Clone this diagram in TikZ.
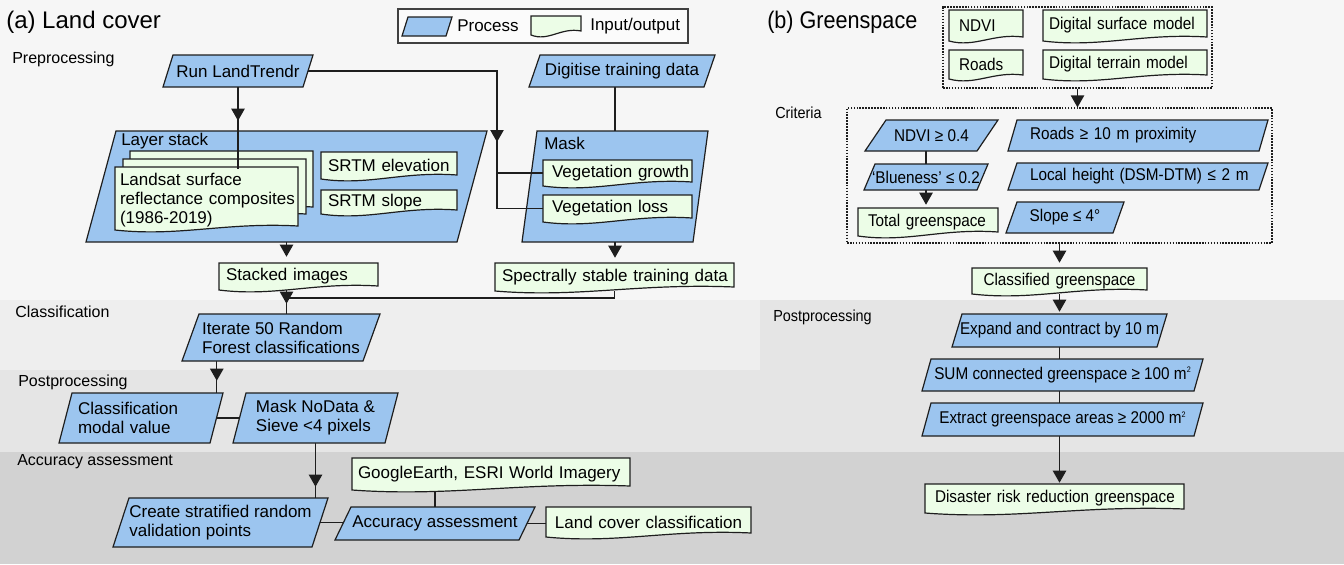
\documentclass[tikz,border=0pt]{standalone}
\usepackage{fontspec}
\setmainfont{Liberation Sans}
\newfontfamily\narrowsans[FakeStretch=0.9]{Liberation Sans}
\usetikzlibrary{arrows.meta,fit,calc}
\pgfdeclarelayer{back}
\pgfdeclarelayer{lines}
\pgfsetlayers{back,lines,main}

\definecolor{procfill}{HTML}{9CC5EF}
\definecolor{iofill}{HTML}{ECFDE7}
\definecolor{bgtop}{HTML}{F6F6F6}
\definecolor{bgclass}{HTML}{EEEEEE}
\definecolor{bgpost}{HTML}{E5E5E5}
\definecolor{bgacc}{HTML}{D2D2D2}
\definecolor{ink}{HTML}{1E1E1E}

\tikzset{
  boxfont/.style={font=\fontsize{12.75pt}{14.3pt}\selectfont},
  procshape/.style={fill=procfill, draw=ink, line width=0.9pt},
  ioshape/.style={fill=iofill, draw=ink, line width=0.9pt},
  boxtext/.style={inner sep=0pt, text=black, align=center, boxfont},
  lbl/.style={anchor=west, inner sep=0pt, font=\fontsize{12pt}{14pt}\selectfont},
  titletext/.style={anchor=west, inner sep=0pt, font=\fontsize{18pt}{20pt}\selectfont},
  conn/.style={draw=ink, line width=0.9pt},
  arr/.style={conn, -{Triangle[width=10pt,length=9pt]}},
  dotbox/.style={draw=ink, line width=0.9pt, dash pattern=on 1.2pt off 1pt, inner sep=0pt},
  legendbox/.style={draw=ink!85, fill=white!60!bgtop, line width=0.9pt, inner sep=0pt},
}

% process box (parallelogram): [options]{name}{x bottom-left}{x top-right}{y top}{y bottom}{slant}{text}
\newcommand\procbox[8][]{%
  \filldraw[procshape] ({#3+#7},#5) -- (#4,#5) -- ({#4-#7},#6) -- (#3,#6) -- cycle;
  \node[boxtext, minimum width={(#4-#3-#7)*0.75pt}, minimum height={(#6-#5)*0.75pt}, #1]
    (#2) at ({(#3+#4)/2},{(#5+#6)/2}) {#8};
}
% input/output box with a wavy lower edge: [options]{name}{x left}{x right}{y top}{y bottom right}{padding}{text}
\newcommand\iobox[8][]{%
  \filldraw[ioshape] (#3,#5) -- (#4,#5) -- (#4,#6)
    .. controls ({#4-0.4*(#4-#3)},{#6-4}) and ({#3+0.35*(#4-#3)},{#6+11}) .. (#3,{#6+4}) -- cycle;
  \pgfmathsetmacro\iotw{(#4-#3-2*#7)*0.75}%
  \node[boxtext, text width=\iotw pt, align=left, minimum width={(#4-#3)*0.75pt},
        minimum height={(#6+4-#5)*0.75pt}, #1]
    (#2) at ({(#3+#4)/2},{(#5+#6+4)/2}) {\mbox{#8}};
}
\newcommand\sqm{\raisebox{0.75ex}{\fontsize{6pt}{6pt}\selectfont 2}}

\begin{document}
\begin{tikzpicture}[x=0.75pt, y=-0.75pt]

% ---------- bands ----------
\begin{pgfonlayer}{back}
  \fill[bgtop] (0,0) rectangle (1344,564);
  \fill[bgclass] (0,300) rectangle (760,370);
  \fill[bgpost] (0,370) rectangle (760,452);
  \fill[bgpost] (760,300) rectangle (1344,452);
  \fill[bgacc] (0,452) rectangle (1344,564);
  % containers of the land cover panel
  \procbox{ls}{86}{487}{131}{242}{30}{}
  \procbox{maskc}{522}{708}{131}{242}{15}{}
\end{pgfonlayer}
\useasboundingbox (0,0) rectangle (1344,564);

% ---------- (a) Land cover ----------
\node[titletext] (titleA) at (6,22) {(a) Land cover};
\node[lbl] (preLbl) at (12,59) {Preprocessing};
\node[lbl] (classLbl) at (15,312) {Classification};
\node[lbl] (postLblA) at (18,382) {Postprocessing};
\node[lbl] (accLbl) at (17,462) {Accuracy assessment};

% legend
\node[legendbox, fit={(398,9) (688,43)}] (legend) {};
\procbox{lgproc}{402}{452}{17}{36}{6}{}
\node[boxtext, anchor=west] (lgp) at (457,26) {Process};
\iobox{lgdoc}{531}{581}{16}{31}{5}{}
\node[boxtext, anchor=west] (lgio) at (590,26) {Input/output};

\procbox{lt}{163}{313}{55}{87}{10}{Run LandTrendr}
\procbox{dig}{529}{715}{55}{87}{11}{Digitise training data}

\node[boxtext, anchor=west] (lsLbl) at (121,141) {Layer stack};
\node[boxtext, anchor=west] (maskLbl) at (544,143) {Mask};

\iobox{lsA}{130}{313}{151}{207}{5}{}
\iobox{lsB}{123}{306}{159}{214}{5}{}
\iobox[yshift=-1.5pt]{lsF}{115}{298}{167}{226}{5}{\begin{tabular}{@{}l@{}}Landsat surface\\reflectance composites\\(1986-2019)\end{tabular}}
\iobox{srtmE}{321}{457}{152}{175}{7}{SRTM elevation}
\iobox{srtmS}{321}{457}{190}{210}{7}{SRTM slope}
\iobox{vegG}{543}{692}{160}{182}{9}{Vegetation growth}
\iobox{vegL}{543}{692}{195}{218}{9}{Vegetation loss}

\iobox{stacked}{219}{378}{263}{286}{7}{Stacked images}
\iobox{spec}{495}{734}{263}{287}{7}{Spectrally stable training data}

\procbox[align=left]{iter}{182}{380}{314}{361}{17}{Iterate 50 Random\\Forest classifications}
\procbox[align=left, text width=94.5pt]{cmv}{59}{223}{393}{443}{13}{Classification\\modal value}
\procbox[align=left]{mnd}{233}{398}{393}{443}{13}{Mask NoData \&\\Sieve <4 pixels}
\procbox[align=left]{csr}{113}{328}{498}{547}{16}{Create stratified random\\validation points}
\procbox{acc}{335}{535}{507}{540}{16}{Accuracy assessment}
\iobox{ge}{352}{630}{458}{486}{6}{GoogleEarth, ESRI World Imagery}
\iobox[align=center]{lcc}{546}{751}{507}{533}{7}{Land cover classification}

% ---------- (b) Greenspace ----------
\begin{scope}[boxtext/.append style={font=\narrowsans\fontsize{12.75pt}{14.3pt}\selectfont},
              lbl/.append style={font=\narrowsans\fontsize{12pt}{14pt}\selectfont},
              titletext/.append style={font=\narrowsans\fontsize{18pt}{20pt}\selectfont}]
  \node[titletext] (titleB) at (767,22) {(b) Greenspace};
  \node[lbl] (critLbl) at (775,113) {Criteria};
  \node[lbl] (postLblB) at (773,317) {Postprocessing};

  \node[dotbox, fit={(943,7) (1212,88)}] (inputs) {};
  \iobox{ndvi}{949}{1023}{10}{37}{10}{NDVI}
  \iobox{dsm}{1043}{1207}{10}{37}{6}{Digital surface model}
  \iobox{roads}{949}{1023}{50}{75}{10}{Roads}
  \iobox{dtm}{1043}{1207}{50}{75}{6}{Digital terrain model}

  \node[dotbox, fit={(847,108) (1272,243)}] (criteria) {};
  \procbox{ndvi04}{865}{998}{120}{151}{21}{NDVI ≥ 0.4}
  \procbox{blue}{864}{988}{164}{190}{11}{‘Blueness’ ≤ 0.2}
  \iobox{total}{858}{998}{208}{232}{10}{Total greenspace}
  \procbox[text width=162pt, align=left]{roads10}{1008}{1268}{120}{151}{9}{\mbox{Roads ≥ 10 m proximity}}
  \procbox[text width=162pt, align=left]{localh}{1008}{1268}{163}{190}{9}{\mbox{Local height (DSM-DTM) ≤ 2 m}}
  \procbox{slope}{1006}{1124}{202}{233}{11}{Slope ≤ 4°}

  \iobox[align=center]{classified}{972}{1147}{268}{290}{6}{Classified greenspace}
  \procbox{expand}{952}{1167}{314}{347}{10}{Expand and contract by 10 m}
  \procbox{sum}{922}{1203}{359}{391}{9}{SUM connected greenspace ≥ 100 m\sqm}
  \procbox{extract}{922}{1203}{403}{436}{9}{Extract greenspace areas ≥ 2000 m\sqm}
  \iobox{disaster}{925}{1184}{484}{509}{10}{Disaster risk reduction greenspace}
\end{scope}

% ---------- connectors ----------
\coordinate (mtip) at (497,142);
\coordinate (merge) at (0,298);
\begin{pgfonlayer}{lines}
  % LandTrendr change maps feed the mask
  \draw[conn] (lt.east) -| (vegL.west -| mtip) -- (vegL.west);
  \draw[arr] (lt.east -| mtip) -- (mtip);
  \draw[conn] (vegG.west -| mtip) -- (vegG.west);
  \draw[conn] (dig.south -| maskc.north) -- (maskc.north);
  % stack and training data
  \draw[arr, shorten >=4.5pt] (ls.south) -- (ls.south |- stacked.north);
  \draw[arr, shorten >=3.75pt] (maskc.south) -- (maskc.south |- spec.north);
  \draw[conn] (spec.south) |- (ls.south |- merge);
  \draw[conn] (ls.south |- stacked.south) -- (ls.south |- iter.north);
  \draw[arr, shorten >=7.5pt] (ls.south |- stacked.south) -- (ls.south |- iter.north);
  % postprocessing and accuracy
  \draw[conn] (cmv.north east |- iter.south) -- (cmv.north east);
  \draw[arr, shorten >=9pt] (cmv.north east |- iter.south) -- (cmv.north east);
  \draw[conn] (cmv.east) -- (mnd.west);
  \draw[conn] (mnd.south) -- (mnd.south |- csr.north);
  \draw[arr, shorten >=8.25pt] (mnd.south) -- (mnd.south |- csr.north);
  \draw[conn] (csr.east) -- (csr.east -| acc.west);
  \draw[conn] (acc.north) -- (acc.north |- ge.south);
  \draw[conn] (acc.east) -- (acc.east -| lcc.west);
  % greenspace chain
  \draw[arr] (inputs.south) -- (inputs.south |- criteria.north);
  \draw[conn] (blue.north |- ndvi04.south) -- (blue.north);
  \draw[arr, shorten >=2.25pt] (blue.south) -- (blue.south |- total.north);
  \draw[arr, shorten >=3.75pt] (criteria.south) -- (criteria.south |- classified.north);
  \draw[arr, shorten >=1.5pt] (expand.north |- classified.south) -- (expand.north);
  \draw[conn] (expand.south) -- (expand.south |- sum.north);
  \draw[conn] (expand.south |- sum.south) -- (expand.south |- extract.north);
  \draw[arr, shorten >=0.75pt] (expand.south |- extract.south) -- (expand.south |- disaster.north);
\end{pgfonlayer}
% composites input runs over the stacked scenes
\draw[conn] (lt.south) -- (lt.south |- lsF.north);
\draw[arr, shorten >=36pt] (lt.south) -- (lt.south |- lsF.north);

\end{tikzpicture}
\end{document}
